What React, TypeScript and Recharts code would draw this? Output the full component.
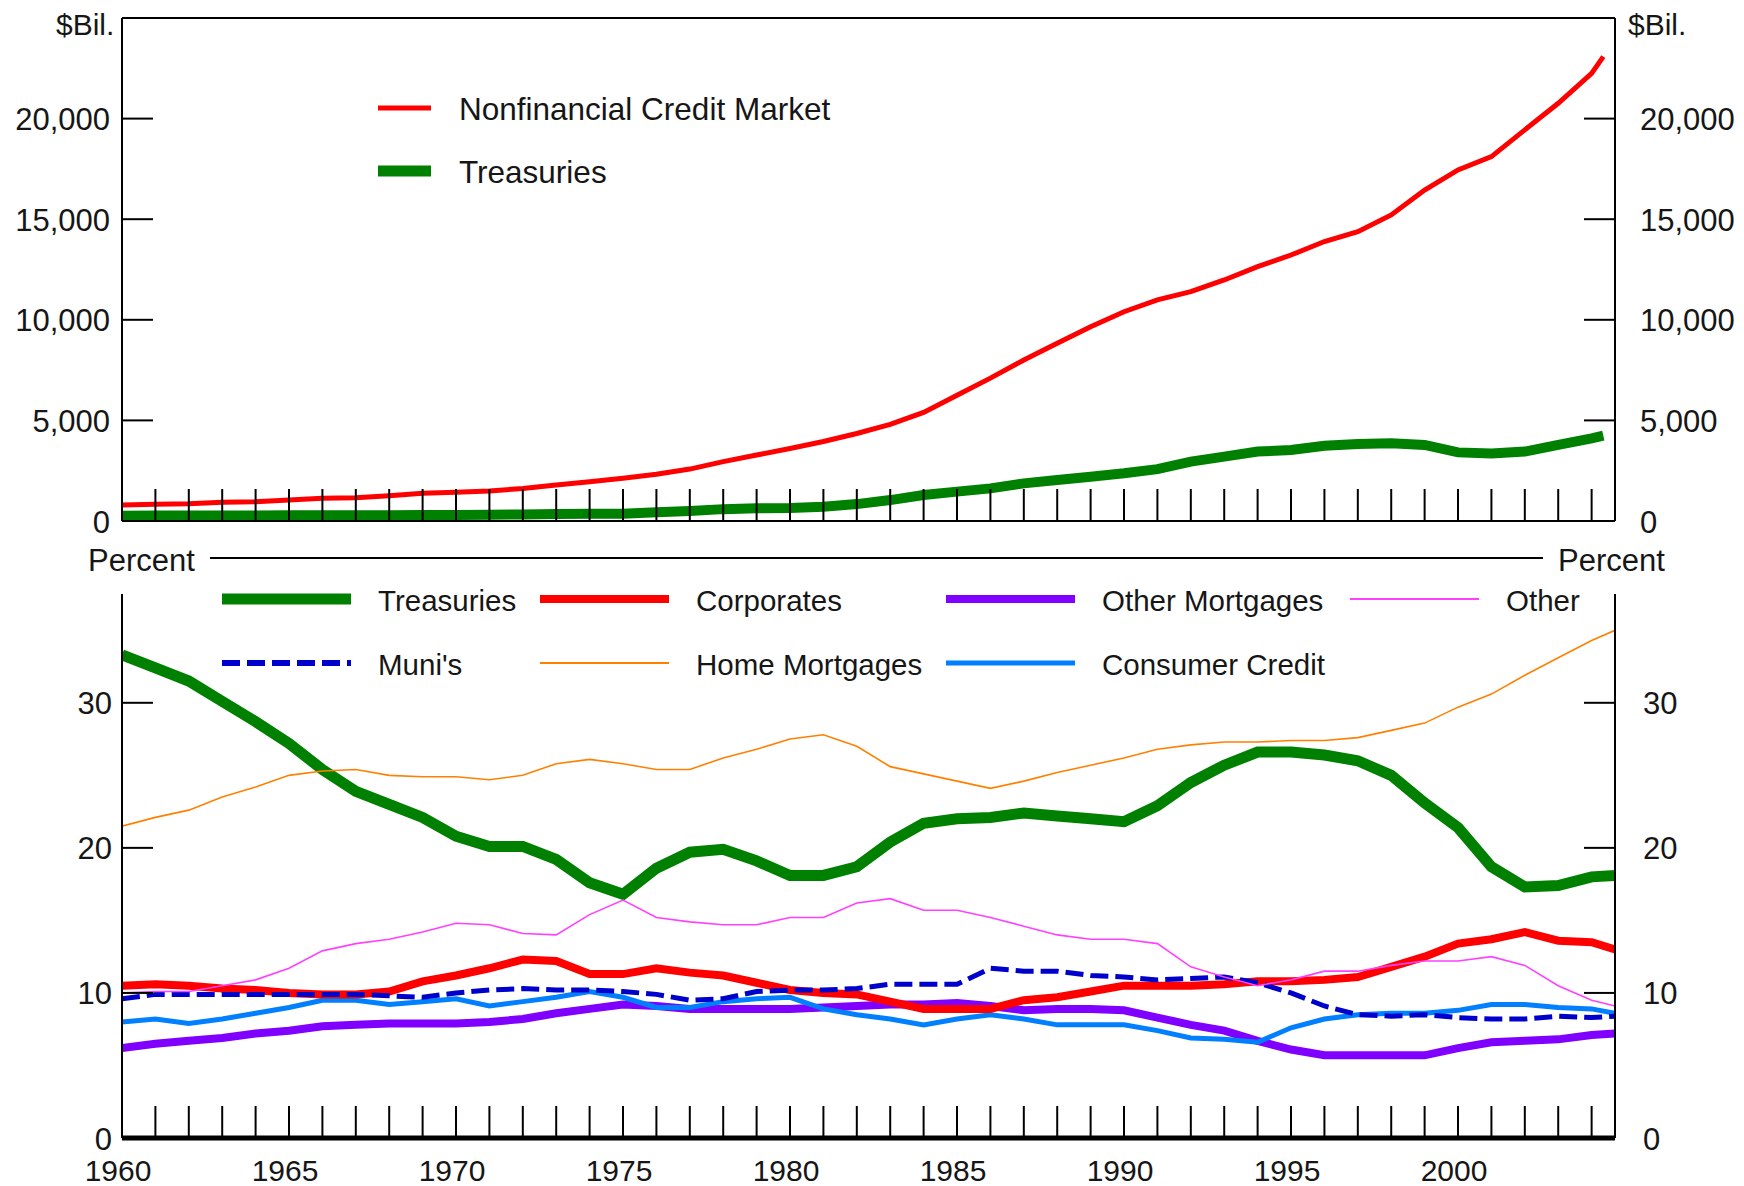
import React from 'react';
import { LineChart, Line, XAxis, YAxis, ReferenceLine, Legend } from 'recharts';

// ---------- data ----------
const YEARS = [
  1960, 1961, 1962, 1963, 1964, 1965, 1966, 1967, 1968, 1969,
  1970, 1971, 1972, 1973, 1974, 1975, 1976, 1977, 1978, 1979,
  1980, 1981, 1982, 1983, 1984, 1985, 1986, 1987, 1988, 1989,
  1990, 1991, 1992, 1993, 1994, 1995, 1996, 1997, 1998, 1999,
  2000, 2001, 2002, 2003, 2004,
];
const TOP_LAST = 2004.35;
const BOTTOM_LAST = 2004.7;

// $ billions
const NONFIN_TOTAL = [
  800, 830, 860, 930, 960, 1045, 1130, 1160, 1260, 1375,
  1425, 1490, 1620, 1790, 1955, 2120, 2320, 2580, 2950, 3280,
  3600, 3950, 4350, 4800, 5400, 6250, 7100, 8000, 8830, 9660,
  10400, 10990, 11400, 11980, 12640, 13220, 13890, 14380, 15210, 16450,
  17450, 18110, 19440, 20760, 22250, 23080,
];
const TREASURIES_BIL = [
  265, 270, 270, 275, 275, 280, 285, 285, 290, 300,
  300, 310, 325, 345, 355, 360, 430, 500, 590, 630,
  650, 710, 840, 1040, 1290, 1460, 1620, 1870, 2040, 2200,
  2370, 2580, 2950, 3200, 3450, 3530, 3740, 3830, 3860, 3780,
  3410, 3360, 3450, 3780, 4110, 4240,
];

// percent shares
const TREASURIES_PCT = [
  33.3, 32.4, 31.5, 30.1, 28.7, 27.2, 25.4, 23.9, 23.0, 22.1,
  20.8, 20.1, 20.1, 19.2, 17.6, 16.8, 18.6, 19.7, 19.9, 19.1,
  18.1, 18.1, 18.7, 20.4, 21.7, 22.0, 22.1, 22.4, 22.2, 22.0,
  21.8, 22.9, 24.5, 25.7, 26.6, 26.6, 26.4, 26.0, 25.0, 23.1,
  21.4, 18.7, 17.3, 17.4, 18.0, 18.1,
];
const CORPORATES_PCT = [
  10.5, 10.6, 10.5, 10.3, 10.2, 10.0, 9.9, 9.9, 10.1, 10.8,
  11.2, 11.7, 12.3, 12.2, 11.3, 11.3, 11.7, 11.4, 11.2, 10.7,
  10.2, 10.0, 9.9, 9.4, 8.9, 8.9, 8.9, 9.5, 9.7, 10.1,
  10.5, 10.5, 10.5, 10.6, 10.8, 10.8, 10.9, 11.1, 11.8, 12.5,
  13.4, 13.7, 14.2, 13.6, 13.5, 13.0,
];
const OTHER_MORTGAGES_PCT = [
  6.2, 6.5, 6.7, 6.9, 7.2, 7.4, 7.7, 7.8, 7.9, 7.9,
  7.9, 8.0, 8.2, 8.6, 8.9, 9.2, 9.1, 8.9, 8.9, 8.9,
  8.9, 9.0, 9.1, 9.2, 9.2, 9.3, 9.1, 8.8, 8.9, 8.9,
  8.8, 8.3, 7.8, 7.4, 6.7, 6.1, 5.7, 5.7, 5.7, 5.7,
  6.2, 6.6, 6.7, 6.8, 7.1, 7.2,
];
const OTHER_PCT = [
  10.0, 10.1, 10.1, 10.5, 10.9, 11.7, 12.9, 13.4, 13.7, 14.2,
  14.8, 14.7, 14.1, 14.0, 15.4, 16.4, 15.2, 14.9, 14.7, 14.7,
  15.2, 15.2, 16.2, 16.5, 15.7, 15.7, 15.2, 14.6, 14.0, 13.7,
  13.7, 13.4, 11.8, 11.1, 10.5, 10.9, 11.5, 11.5, 11.9, 12.2,
  12.2, 12.5, 11.9, 10.5, 9.5, 9.1,
];
const MUNIS_PCT = [
  9.6, 9.9, 9.9, 9.9, 9.9, 9.9, 9.9, 9.9, 9.8, 9.7,
  10.0, 10.2, 10.3, 10.2, 10.2, 10.1, 9.9, 9.5, 9.6, 10.1,
  10.2, 10.2, 10.3, 10.6, 10.6, 10.6, 11.7, 11.5, 11.5, 11.2,
  11.1, 10.9, 11.0, 11.1, 10.7, 10.0, 9.1, 8.5, 8.4, 8.5,
  8.3, 8.2, 8.2, 8.4, 8.3, 8.4,
];
const HOME_MORTGAGES_PCT = [
  21.5, 22.1, 22.6, 23.5, 24.2, 25.0, 25.3, 25.4, 25.0, 24.9,
  24.9, 24.7, 25.0, 25.8, 26.1, 25.8, 25.4, 25.4, 26.2, 26.8,
  27.5, 27.8, 27.0, 25.6, 25.1, 24.6, 24.1, 24.6, 25.2, 25.7,
  26.2, 26.8, 27.1, 27.3, 27.3, 27.4, 27.4, 27.6, 28.1, 28.6,
  29.7, 30.6, 31.9, 33.1, 34.3, 35.0,
];
const CONSUMER_CREDIT_PCT = [
  8.0, 8.2, 7.9, 8.2, 8.6, 9.0, 9.5, 9.5, 9.2, 9.4,
  9.6, 9.1, 9.4, 9.7, 10.1, 9.7, 9.0, 9.0, 9.4, 9.6,
  9.7, 8.9, 8.5, 8.2, 7.8, 8.2, 8.5, 8.2, 7.8, 7.8,
  7.8, 7.4, 6.9, 6.8, 6.6, 7.6, 8.2, 8.5, 8.6, 8.6,
  8.8, 9.2, 9.2, 9.0, 8.9, 8.6,
];

// ticks
const X_TICKS = YEARS;
const X_LABEL_YEARS = [1960, 1965, 1970, 1975, 1980, 1985, 1990, 1995, 2000];
const TOP_Y_TICKS = [0, 5000, 10000, 15000, 20000];
const BOTTOM_Y_TICKS = [0, 10, 20, 30];
const X_DOMAIN = [1960, 2004.7];
const TOP_Y_DOMAIN = [0, 25000];
const BOTTOM_Y_DOMAIN = [0, 37.5];

// series meta
const TOP_SERIES = [
  { key: 'total', name: 'Nonfinancial Credit Market', color: '#ff0000', width: 5, legendWidth: 5 },
  { key: 'treas', name: 'Treasuries', color: '#008000', width: 10, legendWidth: 11 },
];
const BOTTOM_SERIES = [
  { key: 'treas', name: 'Treasuries', color: '#008000', width: 11, legendWidth: 11, dash: undefined, col: 0, row: 0 },
  { key: 'om', name: 'Other Mortgages', color: '#8000ff', width: 8, legendWidth: 8, dash: undefined, col: 2, row: 0 },
  { key: 'cc', name: 'Consumer Credit', color: '#0080ff', width: 5, legendWidth: 5, dash: undefined, col: 2, row: 1 },
  { key: 'corp', name: 'Corporates', color: '#ff0000', width: 8, legendWidth: 8, dash: undefined, col: 1, row: 0 },
  { key: 'muni', name: "Muni's", color: '#0000cc', width: 5, legendWidth: 6, dash: '18 7', col: 0, row: 1 },
  { key: 'home', name: 'Home Mortgages', color: '#ff8000', width: 1.6, legendWidth: 2, dash: undefined, col: 1, row: 1 },
  { key: 'other', name: 'Other', color: '#ff40ff', width: 1.6, legendWidth: 2, dash: undefined, col: 3, row: 0 },
];

const topData = [...YEARS, TOP_LAST].map((year, i) => ({
  year,
  total: NONFIN_TOTAL[i],
  treas: TREASURIES_BIL[i],
}));
const bottomData = [...YEARS, BOTTOM_LAST].map((year, i) => ({
  year,
  treas: TREASURIES_PCT[i],
  corp: CORPORATES_PCT[i],
  om: OTHER_MORTGAGES_PCT[i],
  other: OTHER_PCT[i],
  muni: MUNIS_PCT[i],
  home: HOME_MORTGAGES_PCT[i],
  cc: CONSUMER_CREDIT_PCT[i],
}));

// ---------- styling ----------
const FONT = "'Liberation Sans', Arial, Helvetica, sans-serif";
const INK = '#161616';
const W = 1744;
const TOP_H = 560;
const BOTTOM_H = 626;

const fmtThousands = (v: number) => v.toLocaleString('en-US');

const XTick = (props: any) => {
  const { x, y, payload, showLabel } = props;
  const yr = payload.value;
  return (
    <g>
      {yr !== 1960 && <line x1={x} x2={x} y1={y} y2={y - 32} stroke="#000" strokeWidth={2} />}
      {showLabel && X_LABEL_YEARS.includes(yr) && (
        <text x={x - 4} y={y + 32} textAnchor="middle" dominantBaseline="central" fontSize={30} fill={INK} fontFamily={FONT}>
          {yr}
        </text>
      )}
    </g>
  );
};

const LeftTick = (props: any) => {
  const { x, y, payload, fmt, gap } = props;
  return (
    <g>
      <line x1={x} x2={x + 31} y1={y} y2={y} stroke="#000" strokeWidth={2} />
      <text x={x - gap} y={y + 1} textAnchor="end" dominantBaseline="central" fontSize={31} fill={INK} fontFamily={FONT}>
        {fmt(payload.value)}
      </text>
    </g>
  );
};

const RightTick = (props: any) => {
  const { x, y, payload, fmt, gap } = props;
  return (
    <g>
      <line x1={x - 31} x2={x} y1={y} y2={y} stroke="#000" strokeWidth={2} />
      <text x={x + gap} y={y + 1} textAnchor="start" dominantBaseline="central" fontSize={31} fill={INK} fontFamily={FONT}>
        {fmt(payload.value)}
      </text>
    </g>
  );
};

const TopLegend = () => (
  <svg width={W} height={220} style={{ display: 'block' }}>
    {TOP_SERIES.map((s, i) => {
      const cy = 108 + i * 63;
      return (
        <g key={s.key}>
          <line x1={378} x2={431} y1={cy} y2={cy} stroke={s.color} strokeWidth={s.legendWidth} />
          <text x={459} y={cy + 1} dominantBaseline="central" fontSize={31.5} fill={INK} fontFamily={FONT}>
            {s.name}
          </text>
        </g>
      );
    })}
  </svg>
);

const LEGEND_COLS = [222, 540, 946, 1350];
const LEGEND_ROWS = [39, 103];

const BottomLegend = () => (
  <svg width={W} height={140} style={{ display: 'block' }}>
    {BOTTOM_SERIES.map((s) => {
      const x0 = LEGEND_COLS[s.col];
      const cy = LEGEND_ROWS[s.row];
      return (
        <g key={s.key}>
          <line x1={x0} x2={x0 + 129} y1={cy} y2={cy} stroke={s.color} strokeWidth={s.legendWidth} strokeDasharray={s.dash} />
          <text x={x0 + 156} y={cy + 1} dominantBaseline="central" fontSize={29.5} fill={INK} fontFamily={FONT}>
            {s.name}
          </text>
        </g>
      );
    })}
  </svg>
);

export default function App() {
  return (
    <div style={{ position: 'fixed', left: 0, top: 0, width: W, height: 1186, background: '#fff', fontFamily: FONT }}>
      <div style={{ position: 'absolute', left: 0, top: 0 }}>
        <LineChart width={W} height={TOP_H} data={topData} margin={{ top: 18, right: 0, bottom: 0, left: 0 }}>
          <XAxis
            dataKey="year"
            type="number"
            domain={X_DOMAIN}
            ticks={X_TICKS}
            interval={0}
            allowDataOverflow
            height={39}
            tickSize={0}
            tickMargin={0}
            tickLine={false}
            axisLine={{ stroke: '#000', strokeWidth: 2 }}
            tick={(p: any) => <XTick {...p} showLabel={false} />}
          />
          <YAxis
            yAxisId="l"
            orientation="left"
            width={122}
            domain={TOP_Y_DOMAIN}
            ticks={TOP_Y_TICKS}
            interval={0}
            allowDataOverflow
            tickSize={0}
            tickMargin={0}
            tickLine={false}
            axisLine={{ stroke: '#000', strokeWidth: 2 }}
            tick={(p: any) => <LeftTick {...p} fmt={fmtThousands} gap={12} />}
          />
          <YAxis
            yAxisId="r"
            orientation="right"
            width={129}
            domain={TOP_Y_DOMAIN}
            ticks={TOP_Y_TICKS}
            interval={0}
            allowDataOverflow
            tickSize={0}
            tickMargin={0}
            tickLine={false}
            axisLine={{ stroke: '#000', strokeWidth: 2 }}
            tick={(p: any) => <RightTick {...p} fmt={fmtThousands} gap={25} />}
          />
          <ReferenceLine yAxisId="l" y={25000} stroke="#000" strokeWidth={2} ifOverflow="visible" />
          {[...TOP_SERIES].reverse().map((s) => (
            <Line
              key={s.key}
              yAxisId="l"
              dataKey={s.key}
              type="linear"
              stroke={s.color}
              strokeWidth={s.width}
              dot={false}
              activeDot={false}
              isAnimationActive={false}
            />
          ))}
          <Legend
            verticalAlign="middle"
            wrapperStyle={{ left: 0, top: 0, width: W, height: 220 }}
            content={() => <TopLegend />}
          />
        </LineChart>
      </div>

      <div style={{ position: 'absolute', left: 0, top: TOP_H }}>
        <LineChart width={W} height={BOTTOM_H} data={bottomData} margin={{ top: 34, right: 0, bottom: 0, left: 0 }}>
          <XAxis
            dataKey="year"
            type="number"
            domain={X_DOMAIN}
            ticks={X_TICKS}
            interval={0}
            allowDataOverflow
            height={48}
            tickSize={0}
            tickMargin={0}
            tickLine={false}
            axisLine={{ stroke: '#000', strokeWidth: 5 }}
            tick={(p: any) => <XTick {...p} showLabel />}
          />
          <YAxis
            yAxisId="l"
            orientation="left"
            width={122}
            domain={BOTTOM_Y_DOMAIN}
            ticks={BOTTOM_Y_TICKS}
            interval={0}
            allowDataOverflow
            tickSize={0}
            tickMargin={0}
            tickLine={false}
            axisLine={{ stroke: '#000', strokeWidth: 2 }}
            tick={(p: any) => <LeftTick {...p} fmt={(v: number) => String(v)} gap={10} />}
          />
          <YAxis
            yAxisId="r"
            orientation="right"
            width={129}
            domain={BOTTOM_Y_DOMAIN}
            ticks={BOTTOM_Y_TICKS}
            interval={0}
            allowDataOverflow
            tickSize={0}
            tickMargin={0}
            tickLine={false}
            axisLine={{ stroke: '#000', strokeWidth: 2 }}
            tick={(p: any) => <RightTick {...p} fmt={(v: number) => String(v)} gap={28} />}
          />
          {BOTTOM_SERIES.map((s) => (
            <Line
              key={s.key}
              yAxisId="l"
              dataKey={s.key}
              type="linear"
              stroke={s.color}
              strokeWidth={s.width}
              strokeDasharray={s.dash}
              dot={false}
              activeDot={false}
              isAnimationActive={false}
            />
          ))}
          <Legend
            verticalAlign="middle"
            wrapperStyle={{ left: 0, top: 0, width: W, height: 140 }}
            content={() => <BottomLegend />}
          />
        </LineChart>
      </div>

      <svg width={W} height={1186} style={{ position: 'absolute', left: 0, top: 0, pointerEvents: 'none' }}>
        <text x={56} y={24} dominantBaseline="central" fontSize={30} fill={INK} fontFamily={FONT}>$Bil.</text>
        <text x={1628} y={24} dominantBaseline="central" fontSize={30} fill={INK} fontFamily={FONT}>$Bil.</text>
        <line x1={210} x2={1543} y1={558} y2={558} stroke="#000" strokeWidth={2} />
        <text x={88} y={560} dominantBaseline="central" fontSize={31} fill={INK} fontFamily={FONT}>Percent</text>
        <text x={1558} y={560} dominantBaseline="central" fontSize={31} fill={INK} fontFamily={FONT}>Percent</text>
      </svg>
    </div>
  );
}
